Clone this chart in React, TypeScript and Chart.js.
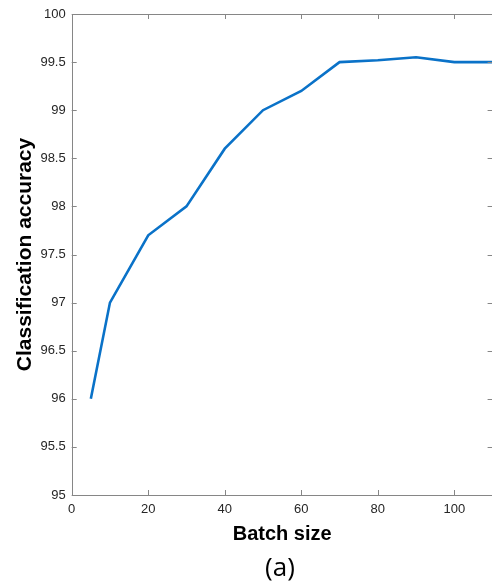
import React, { useEffect, useRef } from "react";
import { Chart, registerables } from "chart.js";

Chart.register(...registerables);

const batchSizes = [5, 10, 20, 30, 40, 50, 60, 70, 80, 90, 100, 110];
const accuracy = [96, 97, 97.7, 98, 98.6, 99, 99.2, 99.5, 99.52, 99.55, 99.5, 99.5];
const xTicks = [0, 20, 40, 60, 80, 100];
const yTicks = [95, 95.5, 96, 96.5, 97, 97.5, 98, 98.5, 99, 99.5, 100];
const xTitle = "Batch size";
const yTitle = "Classification accuracy";
const caption = "(a)";

const AXIS_COLOR = "#868686";
const TEXT_COLOR = "#262626";

const boxPlugin = {
  id: "matlabBox",
  afterDraw(chart: any) {
    const { ctx, chartArea } = chart;
    const { left, right, top, bottom } = chartArea;
    const xs = chart.scales.x;
    const ys = chart.scales.y;
    ctx.save();
    ctx.strokeStyle = AXIS_COLOR;
    ctx.lineWidth = 1;
    ctx.beginPath();
    ctx.rect(Math.round(left) + 0.5, Math.round(top) + 0.5, Math.round(right - left), Math.round(bottom - top));
    ctx.stroke();
    const tl = 5;
    ctx.beginPath();
    xTicks.forEach((v) => {
      const px = Math.round(xs.getPixelForValue(v)) + 0.5;
      ctx.moveTo(px, bottom);
      ctx.lineTo(px, bottom - tl);
      ctx.moveTo(px, top);
      ctx.lineTo(px, top + tl);
    });
    yTicks.forEach((v) => {
      const py = Math.round(ys.getPixelForValue(v)) + 0.5;
      ctx.moveTo(left, py);
      ctx.lineTo(left + tl, py);
      ctx.moveTo(right, py);
      ctx.lineTo(right - tl, py);
    });
    ctx.stroke();
    ctx.fillStyle = "#000000";
    ctx.font = "26px 'Open Sans'";
    ctx.textAlign = "center";
    ctx.textBaseline = "middle";
    ctx.fillText(caption, 280, 569);
    ctx.restore();
  },
};

export default function App() {
  const ref = useRef<HTMLCanvasElement>(null);
  useEffect(() => {
    document.body.style.margin = "0";
    const canvas = ref.current!;
    Chart.defaults.font.family = "'Liberation Sans', Arial, sans-serif";
    const chart = new Chart(canvas, {
      type: "line",
      data: {
        datasets: [
          {
            data: batchSizes.map((x, i) => ({ x, y: accuracy[i] })),
            borderColor: "#0a72c8",
            borderWidth: 2.6,
            pointRadius: 0,
            tension: 0,
            fill: false,
          },
        ],
      },
      options: {
        animation: false,
        responsive: false,
        events: [],
        layout: { padding: { top: 14, right: 7.4, bottom: 0, left: 0 } },
        plugins: { legend: { display: false }, tooltip: { enabled: false }, title: { display: false } },
        scales: {
          x: {
            type: "linear",
            min: 0,
            max: 110,
            grid: { display: false, drawTicks: false },
            border: { display: false },
            afterBuildTicks: (s: any) => {
              s.ticks = xTicks.map((v) => ({ value: v }));
            },
            afterFit: (s: any) => {
              s.height = 87;
            },
            ticks: {
              padding: 7,
              color: TEXT_COLOR,
              font: { size: 13 },
              maxRotation: 0,
              callback: (v: any) => String(v),
            },
            title: {
              display: true,
              text: xTitle,
              color: "#000000",
              font: { size: 20, weight: "bold" },
              padding: { top: 0, bottom: 36 },
            },
          },
          y: {
            type: "linear",
            min: 95,
            max: 100,
            grid: { display: false, drawTicks: false },
            border: { display: false },
            afterBuildTicks: (s: any) => {
              s.ticks = yTicks.map((v) => ({ value: v }));
            },
            afterFit: (s: any) => {
              s.width = 71.7;
            },
            ticks: {
              padding: 6,
              color: TEXT_COLOR,
              font: { size: 13 },
              callback: (v: any) => String(v),
            },
            title: {
              display: true,
              text: yTitle,
              color: "#000000",
              font: { size: 21, weight: "bold" },
              padding: { top: 13, bottom: 0 },
            },
          },
        },
      },
      plugins: [boxPlugin],
    });
    return () => chart.destroy();
  }, []);
  return (
    <div style={{ position: "fixed", left: 0, top: 0, width: 492, height: 582, overflow: "hidden", background: "#fff" }}>
      <canvas ref={ref} width={500} height={582} style={{ display: "block" }} />
    </div>
  );
}
